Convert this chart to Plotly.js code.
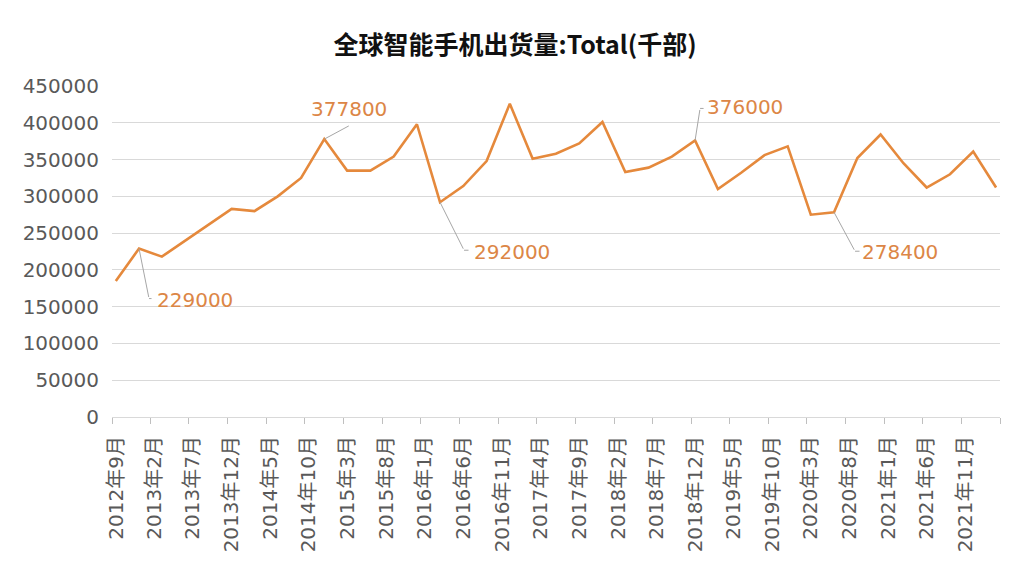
<!DOCTYPE html>
<html>
<head>
<meta charset="utf-8">
<script src="https://cdn.plot.ly/plotly-3.0.1.min.js"></script>
<style>
html,body{margin:0;padding:0;background:#fff;}
#chart{width:1024px;height:576px;}
</style>
</head>
<body>
<div id="chart"></div>
<script>
var months = ['2012-09','2012-12','2013-03','2013-06','2013-09','2013-12','2014-03','2014-06','2014-09','2014-12',
  '2015-03','2015-06','2015-09','2015-12','2016-03','2016-06','2016-09','2016-12','2017-03','2017-06',
  '2017-09','2017-12','2018-03','2018-06','2018-09','2018-12','2019-03','2019-06','2019-09','2019-12',
  '2020-03','2020-06','2020-09','2020-12','2021-03','2021-06','2021-09','2021-12','2022-03'];
var shipments = [185000,229000,218000,240000,261000,283000,280000,300000,325000,377800,
  335000,335000,354000,398000,292000,314000,348000,426000,351000,358000,
  372000,401000,333000,339000,354000,376000,310000,332000,356000,368000,
  275000,278400,352000,384000,345000,312000,330000,361000,312000];
var tickMonths = ['2012-09','2013-02','2013-07','2013-12','2014-05','2014-10','2015-03','2015-08','2016-01','2016-06',
  '2016-11','2017-04','2017-09','2018-02','2018-07','2018-12','2019-05','2019-10','2020-03','2020-08',
  '2021-01','2021-06','2021-11','2022-04'];
var tickLabels = ['2012年9月','2013年2月','2013年7月','2013年12月','2014年5月','2014年10月','2015年3月','2015年8月','2016年1月','2016年6月',
  '2016年11月','2017年4月','2017年9月','2018年2月','2018年7月','2018年12月','2019年5月','2019年10月','2020年3月','2020年8月',
  '2021年1月','2021年6月','2021年11月',''];
var labelledPoints = ['2012-12','2014-12','2016-03','2018-12','2020-06'];
var axisStart = '2012-09-01', axisEnd = '2022-04-01';
var chartTitle = '全球智能手机出货量:Total(千部)';

// label layout (pixel offsets): elbow of leader, horizontal segment length, label centre
var labelLayout = {
  '2012-12': {ex:10, ey:50, h:4, lx:56, ly:51},
  '2014-12': {ex:26, ey:-14, h:0, lx:25, ly:-30},
  '2016-03': {ex:24, ey:48, h:6, lx:72, ly:50},
  '2018-12': {ex:5, ey:-32, h:5, lx:50, ly:-33},
  '2020-06': {ex:21, ey:39, h:6, lx:66, ly:40}
};

function midMonth(ym){
  var y = +ym.slice(0,4), m = +ym.slice(5,7);
  var a = Date.UTC(y, m-1, 1), b = Date.UTC(y, m, 1);
  var d = new Date((a+b)/2);
  return d.toISOString().replace('T',' ').slice(0,19);
}
var xs = months.map(midMonth);

var lineColor = '#E5893C';
var labelColor = '#DC8646';
var leaderColor = '#A6A6A6';
var fontFam = '"DejaVu Sans", "Noto Sans CJK SC", sans-serif';
var titleFam = '"Noto Sans CJK SC", "Noto Sans", sans-serif';

var annotations = [];
labelledPoints.forEach(function(ym){
  var i = months.indexOf(ym);
  var L = labelLayout[ym];
  var px = xs[i], py = shipments[i];
  annotations.push({x:px, y:py, xref:'x', yref:'y', text:'', showarrow:true, arrowhead:0,
    arrowwidth:1, arrowcolor:leaderColor, ax:L.ex, ay:L.ey, standoff:0, startstandoff:0});
  if (L.h > 0) {
    annotations.push({x:px, y:py, xref:'x', yref:'y', text:'', showarrow:true, arrowhead:0,
      arrowwidth:1, arrowcolor:leaderColor, ax:L.h, ay:0, xshift:L.ex, yshift:-L.ey, standoff:0, startstandoff:0});
  }
  annotations.push({x:px, y:py, xref:'x', yref:'y', text:String(py), showarrow:false,
    xanchor:'center', yanchor:'middle', xshift:L.lx, yshift:-L.ly,
    font:{family:fontFam, size:20, color:labelColor}});
});

var trace = {
  x: xs, y: shipments, type:'scatter', mode:'lines',
  line:{color:lineColor, width:2.6}, hoverinfo:'x+y'
};

var layout = {
  width:1024, height:576,
  margin:{l:112, r:24, t:86, b:159, pad:0},
  paper_bgcolor:'#fff', plot_bgcolor:'#fff',
  showlegend:false,
  title:{text:'<b>'+chartTitle+'</b>', x:0.503, xanchor:'center', y:0.922, yanchor:'middle',
    font:{family:titleFam, size:25, color:'#111'}},
  xaxis:{type:'date', range:[axisStart, axisEnd], tickmode:'array',
    tickvals:tickMonths.map(function(t){return t+'-01';}), ticktext:tickLabels,
    tickangle:-90, ticks:'outside', ticklen:6, tickcolor:'#BFBFBF', tickwidth:1,
    showgrid:false, showline:true, linecolor:'#D9D9D9', linewidth:1, zeroline:false,
    ticklabelshift:4, ticklabelstandoff:4,
    tickfont:{family:fontFam, size:20, color:'#595959'}},
  yaxis:{range:[0,450000], dtick:50000, tick0:0, showgrid:true, gridcolor:'#D9D9D9', gridwidth:1,
    zeroline:false, showline:false, ticks:'', tickformat:'d', ticklabelstandoff:12,
    tickfont:{family:fontFam, size:20, color:'#595959'}},
  annotations: annotations
};

Plotly.newPlot('chart', [trace], layout, {staticPlot:true, displayModeBar:false});
</script>
</body>
</html>
